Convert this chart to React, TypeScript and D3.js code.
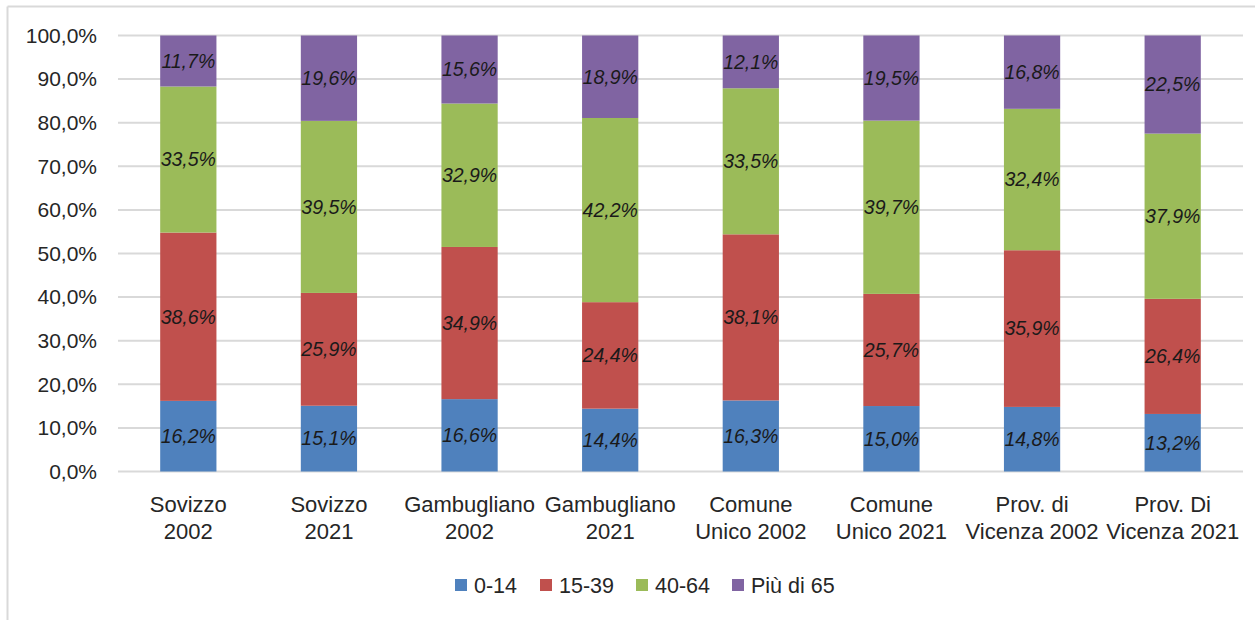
import React from "react";
import * as d3 from "d3";

const categories: string[][] = [
  ["Sovizzo", "2002"],
  ["Sovizzo", "2021"],
  ["Gambugliano", "2002"],
  ["Gambugliano", "2021"],
  ["Comune", "Unico 2002"],
  ["Comune", "Unico 2021"],
  ["Prov. di", "Vicenza 2002"],
  ["Prov. Di", "Vicenza 2021"],
];
const seriesNames = ["0-14", "15-39", "40-64", "Più di 65"];
const age0_14 = [16.2, 15.1, 16.6, 14.4, 16.3, 15.0, 14.8, 13.2];
const age15_39 = [38.6, 25.9, 34.9, 24.4, 38.1, 25.7, 35.9, 26.4];
const age40_64 = [33.5, 39.5, 32.9, 42.2, 33.5, 39.7, 32.4, 37.9];
const age65plus = [11.7, 19.6, 15.6, 18.9, 12.1, 19.5, 16.8, 22.5];
const yTicks = [0, 10, 20, 30, 40, 50, 60, 70, 80, 90, 100];
const colors = ["#4F81BD", "#C0504D", "#9BBB59", "#8064A2"];

const W = 1255;
const H = 620;
const font = "'Liberation Sans', Arial, sans-serif";

export default function App() {
  const series = [age0_14, age15_39, age40_64, age65plus];
  const keys = categories.map((_, i) => i);
  const x = d3
    .scaleBand<number>()
    .domain(keys)
    .range([118, 1243])
    .paddingInner(0.6)
    .paddingOuter(0.3);
  const y = d3.scaleLinear().domain([0, 100]).range([471.5, 35.5]);

  const rows = keys.map((i) => {
    const vals = series.map((s) => s[i]);
    const total = d3.sum(vals);
    const r: any = { i };
    seriesNames.forEach((n, k) => (r[n] = (vals[k] / total) * 100));
    return r;
  });
  const stacked = d3.stack<any>().keys(seriesNames)(rows);
  const fmt = (v: number) => v.toFixed(1).replace(".", ",") + "%";

  const legendX = [455, 540, 636, 732];

  return (
    <svg
      width={W}
      height={H}
      style={{ position: "absolute", left: 0, top: 0, background: "#fff" }}
      fontFamily={font}
    >
      <rect x={0} y={0} width={W} height={H} fill="#fff" />
      <line x1={7.5} y1={6.5} x2={W} y2={6.5} stroke="#D9D9D9" strokeWidth={2} />
      <line x1={7.5} y1={6.5} x2={7.5} y2={H} stroke="#D9D9D9" strokeWidth={2} />
      {yTicks.map((t) => (
        <g key={t}>
          <line
            x1={118}
            x2={1243}
            y1={y(t)}
            y2={y(t)}
            stroke="#D9D9D9"
            strokeWidth={2}
          />
          <text
            x={97}
            y={y(t)}
            dy="0.35em"
            textAnchor="end"
            fontSize={21}
            fill="#262626"
          >
            {fmt(t)}
          </text>
        </g>
      ))}
      {stacked.map((layer, k) => (
        <g key={layer.key} fill={colors[k]}>
          {layer.map((d, j) => (
            <rect
              key={j}
              x={x(j)!}
              width={x.bandwidth()}
              y={y(d[1])}
              height={y(d[0]) - y(d[1])}
            />
          ))}
        </g>
      ))}
      {stacked.map((layer, k) => (
        <g key={"l" + layer.key}>
          {layer.map((d, j) => (
            <text
              key={j}
              x={x(j)! + x.bandwidth() / 2}
              y={y((d[0] + d[1]) / 2)}
              dy="0.35em"
              textAnchor="middle"
              fontSize={19.5}
              fontStyle="italic"
              fill="#1a1a1a"
            >
              {fmt(series[k][j])}
            </text>
          ))}
        </g>
      ))}
      {categories.map((c, j) => (
        <text
          key={j}
          x={x(j)! + x.bandwidth() / 2}
          textAnchor="middle"
          fontSize={22}
          fill="#262626"
        >
          <tspan x={x(j)! + x.bandwidth() / 2} y={512}>
            {c[0]}
          </tspan>
          <tspan x={x(j)! + x.bandwidth() / 2} y={539}>
            {c[1]}
          </tspan>
        </text>
      ))}
      {seriesNames.map((n, k) => (
        <g key={n}>
          <rect x={legendX[k]} y={579} width={12} height={12} fill={colors[k]} />
          <text x={legendX[k] + 19} y={585} dy="0.35em" fontSize={21.5} fill="#262626">
            {n}
          </text>
        </g>
      ))}
    </svg>
  );
}
